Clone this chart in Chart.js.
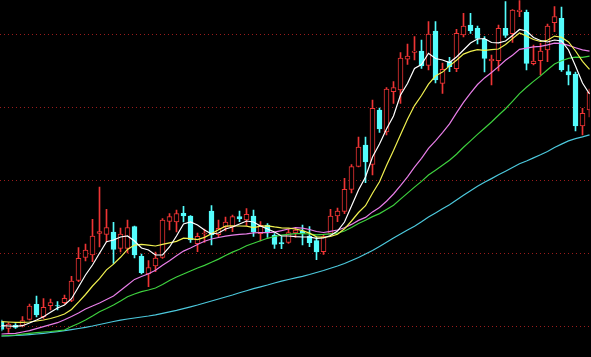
<!DOCTYPE html>
<html>
<head>
<meta charset="utf-8">
<script src="https://cdn.jsdelivr.net/npm/chart.js@4"></script>
<style>
  html, body { margin: 0; padding: 0; background: #000; }
  #kline { display: block; }
</style>
</head>
<body>
<canvas id="kline" width="591" height="357"></canvas>
<script>
// daily candles, oldest first (price units)
const openP = [35.3, 28.7, 31.7, 31.5, 37.7, 52.7, 40.3, 51.3, 51.5, 54.3,
  56.5, 76.5, 99.5, 102, 123.7, 122.7, 125, 108.7, 108.7, 130.3,
  100.7, 83, 91, 99.5, 135.7, 135, 143.7, 141, 113.3, 123,
  146, 122.3, 130, 130.3, 140.3, 137, 141, 123.3, 132, 122,
  114.5, 114.5, 124.2, 126, 121, 116.3, 105.3, 123.7, 141.2, 145.7,
  167.7, 190.5, 212, 192.5, 247, 225, 265.3, 267, 297.8, 304.7,
  306, 291.7, 326, 273.7, 295.3, 288.3, 322, 332, 328.7, 317.7,
  296, 296.3, 328.7, 323.3, 345.3, 344.7, 293.3, 296.3, 307, 334.3,
  338.7, 285.3, 283, 231, 247];
const highP = [37, 34.5, 33.5, 40.5, 53, 61, 58.5, 58, 55.5, 62,
  80.7, 109.5, 113, 137.7, 170, 147.7, 134.7, 129, 137, 131,
  103, 96.5, 105, 138.5, 143.5, 147, 150.7, 141.5, 124, 128,
  151.5, 137, 140, 142, 146, 148.3, 147, 135.3, 133.5, 123.5,
  120.3, 128, 129, 132, 130.3, 120, 122, 147.7, 149, 178.7,
  192.5, 220, 220, 257, 249, 269.5, 275.5, 304.5, 313, 320.3,
  317, 335.5, 335.3, 294, 299.7, 327.7, 343.7, 343.7, 331, 320.3,
  302, 332, 355.3, 347.5, 356.5, 347, 312, 313.7, 332.8, 350.3,
  350, 292, 285, 248.7, 268];
const lowP = [26, 24.5, 28.5, 30, 37, 40, 38.7, 47, 47, 53,
  55.3, 75.3, 96, 95.3, 110, 115, 93.7, 105, 104, 99,
  83, 70.3, 85.3, 98.5, 127, 125, 135, 114.5, 105.3, 114.5,
  112, 120.3, 126, 125.3, 135.3, 131.5, 120.5, 116, 119.5, 108.7,
  108.3, 113.5, 119.5, 112, 110.3, 97.3, 102.5, 122.5, 135.3, 143.3,
  164, 190, 174.3, 182, 224.5, 222, 253.7, 253.5, 292.5, 297,
  288.7, 287, 274, 263.7, 285.3, 285.3, 320, 323.7, 313, 285,
  272, 286, 319.5, 314.5, 340.3, 287, 292, 282, 295.3, 325.3,
  285.7, 272, 226, 222, 240];
const closeP = [27.5, 33, 29.5, 36.5, 51, 42, 49.7, 54.5, 51, 58.7,
  76, 98.7, 107, 121, 125.3, 129.5, 107.7, 123, 129.5, 102,
  84.3, 89.5, 99, 137, 140.3, 143.5, 141, 117, 120.7, 124,
  122, 128.7, 135, 140.3, 138, 142.7, 125, 131.7, 124.5, 112.5,
  113, 124.5, 127, 123.7, 114.3, 105, 120.3, 141, 146, 167.7,
  190.3, 210, 195, 248.7, 228, 267.8, 269.3, 299, 301, 306,
  291, 323, 277, 287.7, 290.3, 323.7, 331, 326.3, 318.7, 298.7,
  298, 328.7, 321.7, 347, 347, 293.7, 296, 306, 331, 340.3,
  287, 282, 231, 243.7, 265];

// moving averages as drawn on the picture
const ma5 = [31.3, 31, 30.7, 31.3, 34, 37, 40.3, 44.7, 49, 52,
  58.3, 70, 82, 92, 103.7, 115.3, 117, 120, 121, 116,
  109, 107, 102, 102, 110, 121, 133, 135, 132, 127,
  123, 124, 128, 130, 133, 136, 135, 131, 128, 125,
  121, 121, 120.3, 120, 120, 118.7, 119, 121.5, 126, 135,
  151, 167, 180, 200, 213, 228, 241, 262, 273.5, 288.5,
  292.5, 303.7, 298.5, 297, 294.5, 300, 307, 314, 318, 318.5,
  314.5, 314.2, 316, 321.5, 327.5, 326, 319.5, 316.5, 315, 317,
  316, 307, 291, 274, 263];
const ma10 = [35.3, 35, 34.7, 34.7, 35, 36, 37, 38.5, 40.5, 43,
  47.5, 54.8, 62.5, 71, 78.3, 87.1, 92.9, 99.7, 107.6, 111.9,
  112.7, 111.8, 111, 112.6, 114.2, 115.6, 118.9, 118.3, 117.4, 119.6,
  123.3, 127.3, 130.9, 131.2, 131, 130.9, 129.3, 130.8, 131.2, 130.1,
  129.2, 128.8, 128, 126.3, 123.9, 120.2, 119.7, 120.6, 122.7, 128.2,
  136, 144.5, 151.3, 163.8, 175.2, 191.5, 206.4, 222.2, 237.7, 251.4,
  261.5, 272.8, 281, 284.9, 291.1, 296.7, 302.9, 305.6, 307.4, 306.7,
  307.4, 308, 312.5, 318.4, 324, 321, 317.5, 315.5, 316.7, 320.9,
  319.8, 315.1, 306, 295.7, 287.6];
const ma20 = [23, 23.3, 23.7, 25, 26.3, 28.3, 30.3, 32.3, 34.3, 37.3,
  40.5, 44, 48, 51, 54, 57.5, 61, 66.5, 72, 77.6,
  80.5, 83.3, 86.8, 91.8, 96.3, 101.3, 105.9, 109, 112.5, 115.7,
  118, 119.5, 120.9, 121.9, 122.6, 123.2, 124.1, 124.5, 124.3, 124.8,
  126.3, 128, 129.4, 128.8, 127.5, 125.5, 124.5, 125.7, 127, 129.2,
  132.6, 136.6, 139.6, 145.1, 149.6, 155.8, 163, 171.4, 180.2, 189.8,
  198.7, 208.7, 216.2, 224.4, 233.2, 244.1, 254.6, 263.9, 272.5, 279.1,
  284.5, 290.4, 296.7, 301.7, 307.6, 308.9, 310.2, 310.6, 312.1, 313.8,
  313.6, 311.6, 309.3, 307.1, 305.8];
const ma30 = [21, 21.5, 22, 22.8, 23.7, 24.3, 25, 25.5, 26.2, 27,
  30.5, 33.5, 37, 41, 45.3, 48.5, 52, 56, 60.3, 63,
  65.3, 67, 69, 72.5, 76.5, 80, 83, 86, 89, 91.6,
  94.8, 97.9, 101.5, 104.9, 107.8, 111.2, 113.7, 116.3, 118.7, 120.5,
  121.8, 122.6, 123.3, 123.4, 123, 122.2, 122.6, 123.2, 123.8, 126,
  129.5, 133.5, 136.7, 140.4, 143.4, 147.5, 151.8, 157.9, 163.9, 169.9,
  175.6, 182, 186.8, 191.7, 196.8, 202.8, 209.7, 216.1, 222.6, 228.8,
  235, 241.8, 248.3, 255.7, 263.4, 269.7, 275.6, 281.1, 287.3, 293,
  296.2, 298.6, 299.8, 299.7, 300.9];
const ma60 = [21, 21.2, 21.5, 21.8, 22.4, 23, 23.7, 24.5, 25.3, 26.3,
  27.4, 28.5, 29.7, 31, 32.5, 34, 35.5, 36.8, 38, 39,
  40, 41, 42.2, 43.7, 45.2, 46.7, 48.4, 50.2, 52, 54,
  56, 58, 60, 62, 64.2, 66.3, 68.3, 70.2, 72, 74,
  75.8, 77.5, 79.2, 80.7, 82.5, 84.5, 86.5, 88.7, 91, 93.5,
  96.5, 99.5, 103, 106.5, 110.5, 114.7, 119, 123, 127, 130.8,
  135.2, 140, 144.1, 148.3, 152.3, 157, 161.7, 166.2, 170.7, 174.7,
  178.4, 182.2, 185.8, 189.5, 193.2, 196, 199.1, 202.2, 205.5, 209.5,
  212.9, 216.1, 218.3, 220.1, 222.1];

const gridLevels = [31, 104, 177, 250, 323];

const UP = '#ee3434';
const DOWN = '#54fcfc';
const days = openP.map((o, i) => String(i + 1));
const isUp = i => closeP[i] >= openP[i];

// dotted red price levels across the whole window
const priceGrid = {
    id: 'priceGrid',
    beforeDatasetsDraw(chart) {
        const ctx = chart.ctx;
        const y = chart.scales.y;
        ctx.save();
        ctx.strokeStyle = '#9a1c1c';
        ctx.lineWidth = 1;
        ctx.setLineDash([1, 3]);
        gridLevels.forEach(v => {
            const py = Math.round(y.getPixelForValue(v)) + 0.5;
            ctx.beginPath();
            ctx.moveTo(0, py);
            ctx.lineTo(chart.width, py);
            ctx.stroke();
        });
        ctx.restore();
    }
};

const maLine = (data, color) => ({
    type: 'line',
    data: data,
    borderColor: color,
    borderWidth: 1.2,
    pointRadius: 0,
    tension: 0,
    order: 0,
    clip: false
});

new Chart(document.getElementById('kline'), {
    type: 'bar',
    data: {
        labels: days,
        datasets: [
            maLine(ma5, '#ffffff'),
            maLine(ma10, '#f0f050'),
            maLine(ma20, '#e87ee8'),
            maLine(ma30, '#3ed03e'),
            maLine(ma60, '#4cc8dc'),
            {
                // candle bodies
                data: openP.map((o, i) => [o, closeP[i]]),
                backgroundColor: days.map((d, i) => isUp(i) ? '#000000' : DOWN),
                borderColor: days.map((d, i) => isUp(i) ? UP : DOWN),
                borderWidth: 1,
                borderSkipped: false,
                barThickness: 5,
                grouped: false,
                order: 1
            },
            {
                // wicks
                data: lowP.map((l, i) => [l, highP[i]]),
                backgroundColor: days.map((d, i) => isUp(i) ? UP : DOWN),
                borderWidth: 0,
                barThickness: 1,
                grouped: false,
                order: 2
            }
        ]
    },
    options: {
        responsive: false,
        animation: false,
        devicePixelRatio: 1,
        layout: { padding: { left: 1.5, right: 1.5, top: 0, bottom: 0 } },
        scales: {
            x: { display: false, offset: false },
            y: { display: false, min: 0, max: 357 }
        },
        plugins: {
            legend: { display: false },
            tooltip: { enabled: false }
        }
    },
    plugins: [priceGrid]
});
</script>
</body>
</html>
